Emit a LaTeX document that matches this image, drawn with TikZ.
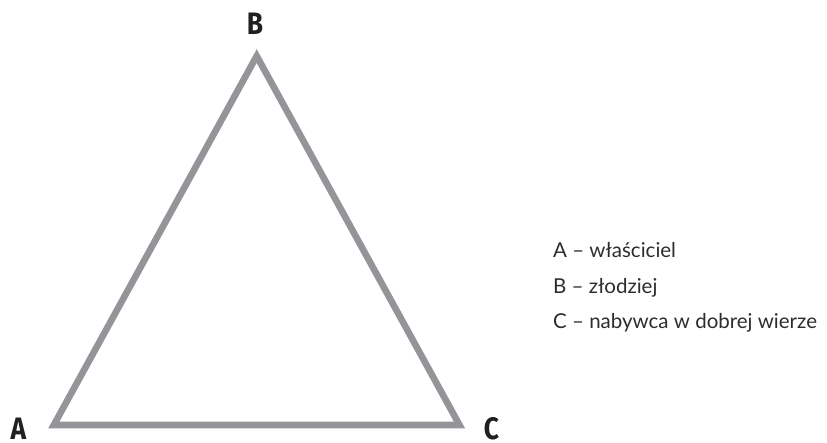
\documentclass[tikz,border=0pt]{standalone}
\usepackage{fontspec}
\setmainfont{Lato}
\newfontfamily\labelfont{Fira Sans}
\usetikzlibrary{positioning}
\definecolor{edgegray}{RGB}{147,149,152}
\definecolor{inkdark}{RGB}{35,31,32}
\definecolor{legendink}{RGB}{45,45,45}

\begin{document}
\begin{tikzpicture}[x=1pt, y=-1pt,
  vertex/.style={font=\labelfont\bfseries\fontsize{31}{31}\selectfont, text=inkdark, inner sep=0pt, text depth=0pt, anchor=base},
  legend/.style={font=\fontsize{20.5}{24}\selectfont, text=legendink, inner sep=0pt, anchor=base west}]

\useasboundingbox (0,0) rectangle (827,442);

% --- triangle ---
\coordinate (A) at (53.8,425);
\coordinate (B) at (256.7,56);
\coordinate (C) at (459.5,425);
\draw[edgegray, line width=6.6pt, line join=miter] (A) -- (B) -- (C) -- cycle;

% --- vertex labels ---
\node[vertex] (la) at (18.5,439.5) {\scalebox{0.85}[1]{A}};
\node[vertex] (lb) at (255,34) {\scalebox{0.85}[1]{B}};
\node[vertex] (lc) at (491.5,439.5) {\scalebox{0.85}[1]{C}};

% --- legend ---
\node[legend] (ka) at (553,257.5) {A – właściciel};
\node[legend] (kb) at (553,293) {B – złodziej};
\node[legend] (kc) at (553,328.5) {C – nabywca w dobrej wierze};

\end{tikzpicture}
\end{document}
